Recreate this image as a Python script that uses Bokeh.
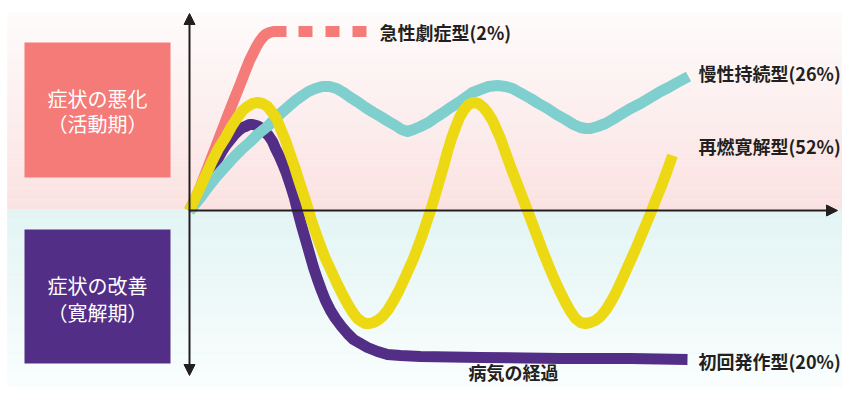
from bokeh.plotting import figure
from bokeh.models import Range1d, Arrow, NormalHead
from bokeh.core.properties import value
from bokeh.embed import file_html
from bokeh.resources import INLINE

# ---- data: (time since onset, symptom level; 0 = baseline) ----
acute = [(1, 0), (11, 24), (21, 50), (31, 76), (41, 102), (51, 127), (56, 140), (60, 150),
         (64, 158), (67, 164), (70, 169), (73, 173), (76, 176), (80, 178), (84, 179),
         (90, 179), (97, 179)]
acute_dashed = [(109, 179), (177, 179)]

chronic = [(0, -1), (6, 7), (11, 13), (19, 24), (26, 33), (35, 43), (44, 53), (52, 61),
           (61, 69), (69, 77), (78, 84), (85, 91), (91, 97), (99, 104), (106, 110),
           (113, 115), (119, 119), (126, 122), (133, 124), (140, 124), (147, 122),
           (154, 118), (161, 113), (169, 108), (176, 103), (184, 98), (191, 94),
           (199, 89), (206, 85), (212, 81), (218, 79), (224, 81), (231, 84), (239, 88),
           (246, 93), (254, 98), (261, 103), (269, 108), (276, 113), (283, 118),
           (291, 121), (299, 124), (308, 125), (316, 124), (323, 122), (332, 117),
           (341, 112), (349, 107), (358, 102), (367, 96), (376, 91), (384, 86),
           (391, 83), (396, 82), (401, 82), (408, 84), (416, 87), (423, 91), (431, 96),
           (441, 102), (451, 107), (461, 113), (471, 119), (479, 123), (486, 127),
           (499, 134)]

relapse = [(0, 0), (6, 13), (11, 24), (17, 37), (23, 50), (29, 62), (36, 73), (42, 84),
           (48, 93), (53, 100), (58, 104), (63, 107), (68, 108), (73, 107), (78, 104),
           (82, 99), (87, 92), (91, 82), (96, 70), (100, 58), (105, 44), (110, 28),
           (116, 10), (122, -10), (129, -30), (135, -46), (142, -61), (148, -74),
           (153, -84), (159, -95), (164, -103), (168, -108), (172, -111), (176, -113),
           (180, -113), (184, -112), (188, -110), (193, -106), (198, -100), (203, -92),
           (209, -81), (216, -66), (224, -48), (229, -35), (233, -24), (237, -12),
           (241, 0), (245, 13), (249, 27), (254, 44), (258, 59), (262, 72), (266, 83),
           (270, 93), (274, 100), (279, 106), (284, 108), (289, 107), (294, 103),
           (298, 98), (303, 90), (307, 81), (311, 72), (316, 58), (321, 44), (326, 31),
           (331, 18), (336, 5), (341, -8), (347, -24), (353, -40), (359, -55),
           (364, -67), (370, -80), (376, -92), (381, -101), (386, -108), (391, -112),
           (396, -113), (401, -112), (406, -110), (411, -106), (416, -100), (421, -92),
           (426, -83), (433, -68), (441, -50), (446, -39), (451, -27), (456, -15),
           (461, -3), (466, 10), (471, 22), (477, 38), (483, 55)]

first_attack = [(0, 0), (7, 14), (14, 28), (19, 37), (24, 45), (29, 53), (33, 60), (37, 66),
                (41, 71), (45, 76), (49, 80), (53, 83), (56, 84), (60, 86), (63, 86),
                (67, 85), (71, 83), (75, 79), (79, 75), (83, 69), (86, 62), (90, 54),
                (93, 47), (97, 37), (101, 25), (105, 12), (108, 0), (112, -15),
                (116, -29), (120, -43), (124, -57), (128, -69), (132, -80), (136, -90),
                (141, -100), (146, -108), (152, -116), (158, -123), (164, -129),
                (171, -133), (178, -137), (188, -141), (198, -144), (211, -145),
                (231, -146), (291, -147), (371, -148), (441, -148), (498, -149)]

labels = ["急性劇症型(2%)", "慢性持続型(26%)", "再燃寛解型(52%)", "初回発作型(20%)"]
phase_top = ["症状の悪化", "（活動期）"]
phase_bottom = ["症状の改善", "（寛解期）"]
x_title = "病気の経過"

RED = "#F47B78"
TEAL = "#7ECFCE"
YELLOW = "#ECD913"
PURPLE = "#532E86"
INK = "#231F20"
FONT = value("Noto Sans CJK JP")


def xs(pts):
    return [a for a, _ in pts]


def ys(pts):
    return [b for _, b in pts]


p = figure(width=842, height=387, output_backend="svg", toolbar_location=None,
           x_range=Range1d(-189, 653), y_range=Range1d(-177, 210),
           min_border=0, outline_line_color=None)
p.axis.visible = False
p.grid.visible = False
p.background_fill_color = "white"
p.border_fill_color = "white"

# background gradients (worsening zone / improving zone)
n = 40


def mix(c1, c2, f):
    return "#%02x%02x%02x" % tuple(int(round(a + (b - a) * f)) for a, b in zip(c1, c2))


tops, bots, cols = [], [], []
pink_top, pink_bot = (254, 251, 251), (251, 226, 226)
for i in range(n):
    tops.append(198 - (197 / n) * i); bots.append(198 - (197 / n) * (i + 1))
    cols.append(mix(pink_top, pink_bot, i / (n - 1)))
cy_top, cy_bot = (227, 244, 244), (251, 254, 254)
for i in range(n):
    tops.append(1 - (193 / n) * i); bots.append(1 - (193 / n) * (i + 1))
    cols.append(mix(cy_top, cy_bot, i / (n - 1)))
p.quad(left=[-182] * len(tops), right=[670] * len(tops), top=tops, bottom=bots,
       fill_color=cols, line_color=cols, line_width=0.6)

# phase boxes
p.quad(left=[-165], right=[-19], top=[168], bottom=[33], fill_color=RED, line_color=None)
p.quad(left=[-165], right=[-19], top=[-19], bottom=[-153], fill_color=PURPLE, line_color=None)
p.text(x=[-92, -92], y=[112, 87], text=phase_top, text_font=FONT, text_font_size="20px",
       text_align="center", text_baseline="middle", text_color="white")
p.text(x=[-92, -92], y=[-75, -102], text=phase_bottom, text_font=FONT, text_font_size="20px",
       text_align="center", text_baseline="middle", text_color="white")

# axes with arrows
p.add_layout(Arrow(x_start=0, y_start=-165, x_end=0, y_end=197, line_width=2, line_color=INK,
                   start=NormalHead(size=11, fill_color=INK, line_color=INK),
                   end=NormalHead(size=11, fill_color=INK, line_color=INK)))
p.add_layout(Arrow(x_start=0, y_start=0, x_end=648, y_end=0, line_width=2, line_color=INK,
                   end=NormalHead(size=11, fill_color=INK, line_color=INK)))

# curves
lw = 11
p.line(xs(acute), ys(acute), line_width=lw, line_color=RED, line_join="round")
p.line(xs(acute_dashed), ys(acute_dashed), line_width=lw, line_color=RED, line_dash="14 13")
p.line(xs(first_attack), ys(first_attack), line_width=lw, line_color=PURPLE, line_join="round")
p.line(xs(chronic), ys(chronic), line_width=lw, line_color=TEAL, line_join="round")
p.line(xs(relapse), ys(relapse), line_width=lw, line_color=YELLOW, line_join="round")

# labels
p.text(x=[190, 509, 509, 509], y=[179, 138, 65, -150], text=labels, text_font=FONT,
       text_font_size="18px", text_align="left", text_baseline="middle",
       text_color=INK, text_font_style="bold")
p.text(x=[324], y=[-161], text=[x_title], text_font=FONT, text_font_size="18px",
       text_align="center", text_baseline="middle", text_color=INK, text_font_style="bold")

open("out.html", "w").write(file_html(p, INLINE))
